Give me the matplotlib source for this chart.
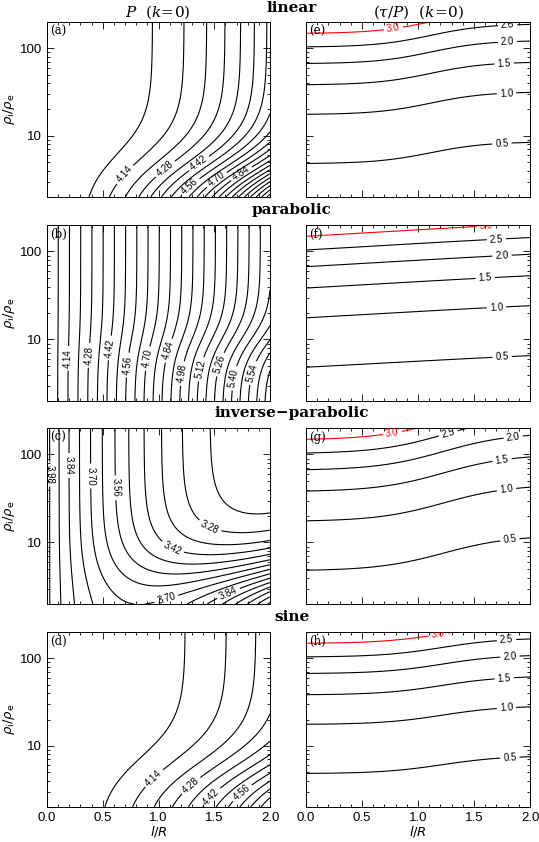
import numpy as np
import matplotlib
matplotlib.use("Agg")
import matplotlib.pyplot as plt
from matplotlib.ticker import MultipleLocator, LogLocator, NullFormatter

plt.rcParams['font.family'] = ['Liberation Sans', 'DejaVu Sans']

# row names and panel letters
profiles = ["linear", "parabolic", "inverse\u2212parabolic", "sine"]
letters_p = ["(a)", "(b)", "(c)", "(d)"]
letters_t = ["(e)", "(f)", "(g)", "(h)"]

# period P(l, rho) = 4 + c1*l + c2*l^2 + c3*l^p3 + H/(1+(rho/rc)^q) * l^r
# (coefficients fitted to the contour positions)
p_c1 = [0.0, 0.695, -0.852, 0.0]
p_c2 = [0.0, 0.0, 0.213, 0.0]
p_c3 = [0.081, 0.0, 0.0, 0.0395]
p_p3 = [2.65, 2.0, 2.0, 2.66]
p_H = [0.45, 0.12, 0.45, 0.24]
p_rc = [3.2, 9.0, 4.0, 4.0]
p_q = [1.9, 2.5, 1.8, 1.8]
p_r = [1.65, 1.5, 1.6, 1.65]

# contour levels of P (every second one labelled)
p_first = [4.07, 4.07, 3.21, 4.07]
p_nlev = [30, 30, 20, 30]
p_step = 0.07

# label spots (l/R, rho_i/rho_e) for the P panels
lab_a = [(0.72, 3.4), (1.04, 4.5), (1.34, 5.3), (1.25, 2.9), (1.52, 3.2), (1.75, 3.6)]
lab_b = [(0.19, 6.1), (0.39, 6.6), (0.57, 8.0), (0.73, 5.1), (0.89, 6.1), (1.07, 7.6),
         (1.21, 4.1), (1.34, 4.7), (1.51, 5.4), (1.69, 3.6), (1.87, 4.1)]
lab_c = [(0.04, 60), (0.24, 75), (0.46, 57), (0.68, 42), (1.13, 8.9), (1.46, 15.2),
         (1.07, 2.3), (1.61, 3.0)]
lab_d = [(0.98, 4.0), (1.34, 3.0), (1.49, 2.5), (1.76, 2.8)]
p_labels = [lab_a, lab_b, lab_c, lab_d]

# tau/P = (sqrt(rho) - 0.2) / (4 f(l)),  f goes from 1 at l=0 to fmax at l=2
t_levels = [0.5, 1.0, 1.5, 2.0, 2.5, 3.0]
t_colors = ['k', 'k', 'k', 'k', 'k', 'r']
t_fmax = [1.35, 1.18, 1.58, 1.27]
t_mid = [1.15, 1.0, 1.3, 1.25]
t_width = [0.5, 3.0, 0.6, 0.55]
t_lab_l = [[1.75, 1.79, 1.77, 1.80, 1.80, 0.78],
           [1.75, 1.70, 1.60, 1.75, 1.70, 1.61],
           [1.82, 1.79, 1.75, 1.85, 1.27, 0.77],
           [1.82, 1.79, 1.77, 1.82, 1.79, 1.18]]

lr = np.linspace(0, 2, 241)
rho = np.logspace(np.log10(2), np.log10(200), 241)
L, RHO = np.meshgrid(lr, rho)


def period(i, l, r):
    low = p_H[i] / (1 + (r / p_rc[i]) ** p_q[i]) * l ** p_r[i]
    return 4 + p_c1[i] * l + p_c2[i] * l ** 2 + p_c3[i] * l ** p_p3[i] + low


def fshape(i, l):
    t = np.tanh((l - t_mid[i]) / t_width[i])
    t0 = np.tanh((0 - t_mid[i]) / t_width[i])
    t2 = np.tanh((2 - t_mid[i]) / t_width[i])
    return 1 + (t_fmax[i] - 1) * (t - t0) / (t2 - t0)


def damping(i, l, r):
    return (np.sqrt(r) - 0.2) / (4 * fshape(i, l))


fig = plt.figure(figsize=(5.39, 8.42), dpi=100)

W = 842.0
rows_px = [(22, 197), (225, 401), (428, 604), (632, 807)]
title_y = [8, 210, 413, 617]


def style_axes(ax, bottom):
    ax.set_xlim(0, 2)
    ax.set_ylim(2, 200)
    ax.set_yscale('log')
    ax.xaxis.set_major_locator(MultipleLocator(0.5))
    ax.xaxis.set_minor_locator(MultipleLocator(0.1))
    ax.yaxis.set_minor_locator(LogLocator(base=10, subs=np.arange(2, 10), numticks=10))
    ax.yaxis.set_minor_formatter(NullFormatter())
    ax.tick_params(which='both', direction='in', top=True, right=True, width=0.6,
                   labelsize=9.5)
    ax.tick_params(which='major', length=5)
    ax.tick_params(which='minor', length=2.5)
    for s in ax.spines.values():
        s.set_linewidth(0.7)
    if not bottom:
        ax.set_xticklabels([])
    else:
        ax.set_xticks([0, 0.5, 1.0, 1.5, 2.0])
        ax.set_xticklabels(['0.0', '0.5', '1.0', '1.5', '2.0'])
        ax.set_xlabel(r'$l/R$', fontsize=9.5, labelpad=0)


for i in range(4):
    top, bot = rows_px[i]
    y0 = 1 - bot / W
    h = (bot - top) / W
    bottom = (i == 3)

    # left: period
    ax = fig.add_axes([47 / 539, y0, 223 / 539, h])
    P = period(i, L, RHO)
    levs = np.round(p_first[i] + p_step * np.arange(p_nlev[i]), 2)
    ax.contour(L, RHO, P, levels=levs[0::2], colors='k', linewidths=0.8)
    cs = ax.contour(L, RHO, P, levels=levs[1::2], colors='k', linewidths=0.8)
    style_axes(ax, bottom)
    ax.set_yticks([10, 100])
    ax.set_yticklabels(['10', '100'])
    ax.set_ylabel(r'$\rho_{\rm i}/\rho_{\rm e}$', fontsize=9.5, labelpad=2)
    ax.clabel(cs, manual=p_labels[i], inline=True, fmt='%.2f', fontsize=7,
              inline_spacing=3)
    ax.text(0.015, 0.985, letters_p[i], transform=ax.transAxes, ha='left', va='top',
            fontsize=8.5, family='DejaVu Serif')

    # right: damping ratio
    ax2 = fig.add_axes([306 / 539, y0, 224 / 539, h])
    T = damping(i, L, RHO)
    cs2 = ax2.contour(L, RHO, T, levels=t_levels, colors=t_colors, linewidths=0.8)
    style_axes(ax2, bottom)
    ax2.set_yticks([10, 100])
    ax2.set_yticklabels([])
    pos = []
    for lev, ll in zip(t_levels, t_lab_l[i]):
        rr = (4 * lev * fshape(i, ll) + 0.2) ** 2
        pos.append((ll, min(rr, 195)))
    ax2.clabel(cs2, manual=pos, inline=True, fmt='%.1f', fontsize=7, inline_spacing=3)
    ax2.text(0.015, 0.985, letters_t[i], transform=ax2.transAxes, ha='left', va='top',
             fontsize=8.5, family='DejaVu Serif')

    fig.text(292 / 539, 1 - title_y[i] / W, profiles[i], ha='center', va='center',
             fontsize=11, fontweight='bold', family='DejaVu Serif')

fig.text(158 / 539, 1 - 12 / W, r'$P$  $(k\!=\!0)$', ha='center', va='center',
         fontsize=11, family='DejaVu Serif', math_fontfamily='dejavuserif')
fig.text(418 / 539, 1 - 12 / W, r'$(\tau/P)$  $(k\!=\!0)$', ha='center', va='center',
         fontsize=11, family='DejaVu Serif', math_fontfamily='dejavuserif')

fig.savefig('out.png', dpi=100)
